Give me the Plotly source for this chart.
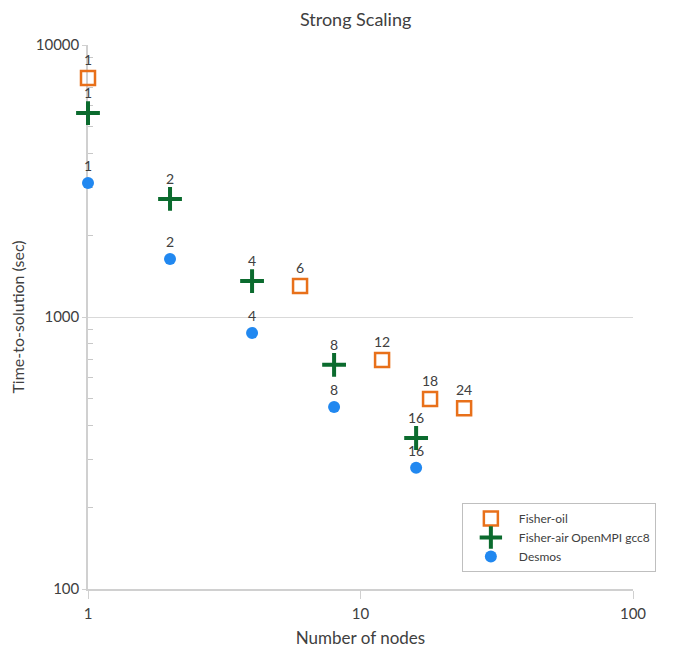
import plotly.graph_objects as go

oil_nodes = [1, 6, 12, 18, 24]
oil_time = [7560, 1300, 695, 500, 462]
air_nodes = [1, 2, 4, 8, 16]
air_time = [5620, 2716, 1355, 667, 359]
des_nodes = [1, 2, 4, 8, 16]
des_time = [3111, 1634, 873, 467, 279]

FONT = "Lato, Open Sans, sans-serif"
LBL = dict(family=FONT, size=14, color="#404040")

fig = go.Figure()
fig.add_trace(go.Scatter(
    x=oil_nodes, y=oil_time, mode="markers+text", name="Fisher-oil",
    text=[str(n) for n in oil_nodes], textposition="top center", textfont=LBL,
    cliponaxis=False,
    marker=dict(symbol="square-open", size=14, color="#E8701A", line=dict(width=2.5, color="#E8701A")),
))
fig.add_trace(go.Scatter(
    x=air_nodes, y=air_time, mode="markers+text", name="Fisher-air OpenMPI gcc8",
    text=[str(n) for n in air_nodes], textposition="top center", textfont=LBL,
    cliponaxis=False,
    marker=dict(symbol="cross-thin-open", size=17, color="#0B6B2E", line=dict(width=4, color="#0B6B2E")),
))
fig.add_trace(go.Scatter(
    x=des_nodes, y=des_time, mode="markers+text", name="Desmos",
    text=[str(n) for n in des_nodes], textposition="top center", textfont=LBL,
    cliponaxis=False,
    marker=dict(symbol="circle", size=12, color="#2188F0"),
))

fig.update_layout(
    width=675, height=650,
    margin=dict(l=80, r=50, t=37, b=69),
    paper_bgcolor="white", plot_bgcolor="white",
    font=dict(family=FONT, size=14, color="#404040"),
    title=dict(text="Strong Scaling", x=0.515, xanchor="center", y=0.982, yanchor="middle",
               font=dict(family=FONT, size=18, color="#404040")),
    showlegend=True,
    legend=dict(x=0.686, y=0.158, xanchor="left", yanchor="top",
                bgcolor="white", bordercolor="#BFBFBF", borderwidth=1,
                font=dict(family=FONT, size=12, color="#404040"),
                tracegroupgap=0, itemwidth=46),
)
fig.update_xaxes(
    type="log", range=[0, 2], showgrid=False, zeroline=False, automargin=False,
    showline=True, linecolor="#D0D0D0", linewidth=1.5, layer="below traces",
    ticks="outside", tickcolor="#D0D0D0", ticklen=8, ticklabelstandoff=2,
    tickvals=[1, 10, 100], ticktext=["1", "10", "100"],
    tickfont=dict(family=FONT, size=15, color="#404040"),
    title=dict(text="Number of nodes", font=dict(family=FONT, size=17, color="#404040"), standoff=11),
)
minor_vals = [m * d for d in (100, 1000) for m in range(2, 10)]
fig.update_yaxes(
    type="log", range=[2, 4], showgrid=True, gridcolor="#D9D9D9", gridwidth=1,
    zeroline=False, showline=True, linecolor="#D0D0D0", linewidth=1.5, layer="below traces",
    automargin=False,
    ticks="outside", tickcolor="#D0D0D0", ticklen=4,
    tickvals=[100, 1000, 10000], ticktext=["100", "1000", "10000"],
    tickfont=dict(family=FONT, size=15, color="#404040"),
    minor=dict(ticks="inside", ticklen=5, tickcolor="#C8C8C8", tickvals=minor_vals, showgrid=False),
    title=dict(text="Time-to-solution (sec)", font=dict(family=FONT, size=16, color="#404040"), standoff=10),
)

fig.write_html("out.html")
